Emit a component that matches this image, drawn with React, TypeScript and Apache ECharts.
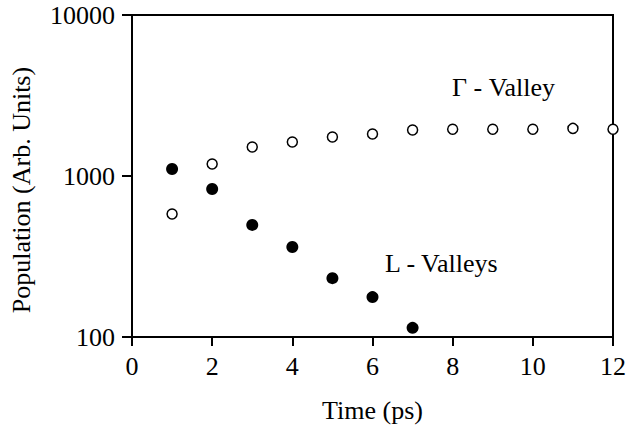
import React, { useEffect, useRef } from "react";
import * as echarts from "echarts";

const times = [1, 2, 3, 4, 5, 6, 7, 8, 9, 10, 11, 12];
const gammaValley = [581, 1188, 1514, 1626, 1746, 1824, 1930, 1950, 1950, 1950, 1975, 1950];
const lTimes = [1, 2, 3, 4, 5, 6, 7];
const lValleys = [1105, 830, 497, 362, 232, 177, 114];
const xTicks = [0, 2, 4, 6, 8, 10, 12];
const yTicks = [100, 1000, 10000];

const FONT = "Liberation Serif";

export default function App() {
  const ref = useRef<HTMLDivElement>(null);
  useEffect(() => {
    if (!ref.current) return;
    const chart = echarts.init(ref.current, undefined, { renderer: "svg" });
    chart.setOption({
      animation: false,
      backgroundColor: "#fff",
      textStyle: { fontFamily: FONT },
      grid: {
        left: 132,
        right: 13,
        top: 15,
        bottom: 95,
        show: true,
        borderColor: "#000",
        borderWidth: 2,
        backgroundColor: "transparent",
      },
      xAxis: {
        type: "value",
        min: xTicks[0],
        max: xTicks[xTicks.length - 1],
        interval: 2,
        name: "Time (ps)",
        nameLocation: "middle",
        nameGap: 60,
        nameTextStyle: { fontFamily: FONT, fontSize: 26, color: "#000" },
        axisLine: { lineStyle: { color: "#000", width: 2 } },
        axisTick: { show: true, length: 9, lineStyle: { color: "#000", width: 2 } },
        axisLabel: { fontFamily: FONT, fontSize: 26, color: "#000", margin: 16 },
        splitLine: { show: false },
      },
      yAxis: {
        type: "log",
        logBase: 10,
        min: yTicks[0],
        max: yTicks[yTicks.length - 1],
        axisLine: { show: true, lineStyle: { color: "#000", width: 2 } },
        axisTick: { show: true, length: 10, lineStyle: { color: "#000", width: 2 } },
        minorTick: { show: false },
        axisLabel: {
          fontFamily: FONT,
          fontSize: 26,
          color: "#000",
          margin: 17,
          formatter: (v: number) => String(Math.round(v)),
        },
        splitLine: { show: false },
      },
      series: [
        {
          type: "scatter",
          name: "Γ - Valley",
          data: times.map((t, i) => [t, gammaValley[i]]),
          symbol: "circle",
          symbolSize: 10,
          itemStyle: { color: "#fff", borderColor: "#000", borderWidth: 1.5, opacity: 1 },
          z: 3,
        },
        {
          type: "scatter",
          name: "L - Valleys",
          data: lTimes.map((t, i) => [t, lValleys[i]]),
          symbol: "circle",
          symbolSize: 12,
          itemStyle: { color: "#000", opacity: 1 },
          z: 4,
        },
      ],
      graphic: [
        {
          type: "text",
          x: 21,
          y: 190,
          rotation: Math.PI / 2,
          style: {
            text: "Population (Arb. Units)",
            fontFamily: FONT,
            fontSize: 26,
            fill: "#000",
            align: "center",
            verticalAlign: "middle",
          },
        },
        {
          type: "text",
          left: 452,
          top: 74,
          style: { text: "Γ - Valley", fontFamily: FONT, fontSize: 26, fill: "#000" },
        },
        {
          type: "text",
          left: 385,
          top: 250,
          style: { text: "L - Valleys", fontFamily: FONT, fontSize: 26, fill: "#000" },
        },
      ],
    });
    return () => chart.dispose();
  }, []);
  return <div ref={ref} style={{ width: 629, height: 432, position: "absolute", left: 0, top: 0 }} />;
}
